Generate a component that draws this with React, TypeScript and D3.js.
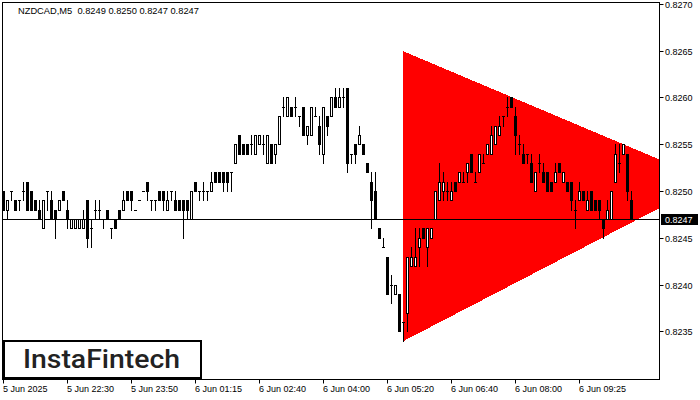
import { useRef, useEffect } from 'react';
import * as d3 from 'd3';

// NZDCAD M5 candles, prices in 1/10000 (pips)
const opens = [
  8250, 8248, 8250, 8249, 8249, 8250, 8251, 8250, 8249, 8248,
  8246, 8250, 8249, 8248, 8248, 8250, 8248, 8246, 8246, 8246,
  8246, 8249, 8246, 8248, 8248, 8247, 8248, 8246, 8247, 8248,
  8248, 8250, 8250, 8248, 8249, 8250, 8251, 8249, 8249, 8250,
  8250, 8248, 8250, 8249, 8249, 8249, 8249, 8247, 8251, 8250,
  8250, 8250, 8250, 8252, 8252, 8252, 8252, 8252, 8253, 8256,
  8255, 8255, 8255, 8254, 8255, 8255, 8253, 8255, 8254, 8255,
  8259, 8258, 8259, 8259, 8258, 8259, 8256, 8256, 8258, 8257,
  8254, 8258, 8258, 8260, 8259, 8260, 8261, 8254, 8255, 8255,
  8255, 8253, 8251, 8250, 8246, 8244, 8243, 8240, 8239, 8239,
  8236, 8237, 8242, 8242, 8244, 8246, 8244, 8245, 8247, 8249,
  8250, 8250, 8249, 8251, 8251, 8251, 8252, 8254, 8251, 8252,
  8253, 8254, 8254, 8255, 8256, 8258, 8259, 8260, 8258, 8255,
  8254, 8254, 8253, 8250, 8253, 8252, 8252, 8251, 8251, 8253,
  8251, 8251, 8251, 8248, 8249, 8250, 8248, 8250, 8249, 8249,
  8247, 8247, 8247, 8251, 8253, 8254, 8254, 8249,
];
const highs = [
  8250, 8249, 8250, 8249, 8249, 8251, 8251, 8250, 8249, 8249,
  8249, 8250, 8250, 8248, 8249, 8250, 8249, 8247, 8247, 8247,
  8248, 8249, 8247, 8249, 8249, 8247, 8248, 8246, 8247, 8248,
  8250, 8250, 8250, 8248, 8249, 8250, 8251, 8249, 8249, 8250,
  8250, 8250, 8250, 8250, 8249, 8249, 8249, 8250, 8251, 8250,
  8251, 8250, 8252, 8252, 8252, 8252, 8252, 8252, 8255, 8256,
  8255, 8255, 8256, 8256, 8256, 8256, 8256, 8255, 8255, 8258,
  8260, 8260, 8259, 8260, 8258, 8259, 8257, 8259, 8259, 8258,
  8259, 8258, 8260, 8261, 8261, 8261, 8261, 8254, 8255, 8257,
  8255, 8253, 8252, 8252, 8246, 8245, 8243, 8241, 8240, 8239,
  8236, 8243, 8244, 8246, 8246, 8246, 8246, 8246, 8250, 8253,
  8252, 8251, 8251, 8251, 8252, 8252, 8253, 8254, 8252, 8254,
  8254, 8255, 8257, 8257, 8258, 8258, 8260, 8260, 8259, 8256,
  8255, 8254, 8254, 8252, 8254, 8253, 8252, 8251, 8253, 8253,
  8252, 8251, 8251, 8249, 8251, 8250, 8250, 8250, 8249, 8249,
  8247, 8249, 8250, 8255, 8255, 8255, 8254, 8250,
];
const lows = [
  8248, 8247, 8249, 8248, 8248, 8249, 8248, 8248, 8248, 8247,
  8246, 8248, 8247, 8245, 8248, 8249, 8246, 8246, 8246, 8246,
  8246, 8244, 8244, 8247, 8247, 8246, 8247, 8245, 8246, 8247,
  8248, 8249, 8248, 8248, 8249, 8250, 8249, 8248, 8248, 8249,
  8248, 8248, 8249, 8248, 8248, 8245, 8247, 8247, 8250, 8249,
  8249, 8249, 8250, 8251, 8251, 8250, 8250, 8250, 8253, 8254,
  8254, 8254, 8254, 8254, 8255, 8254, 8253, 8253, 8253, 8255,
  8258, 8258, 8258, 8258, 8257, 8256, 8255, 8256, 8258, 8254,
  8253, 8256, 8258, 8259, 8259, 8259, 8252, 8253, 8253, 8255,
  8254, 8252, 8246, 8247, 8245, 8244, 8239, 8238, 8239, 8235,
  8234, 8235, 8242, 8242, 8242, 8245, 8242, 8245, 8247, 8249,
  8249, 8249, 8249, 8250, 8251, 8251, 8251, 8252, 8251, 8252,
  8253, 8254, 8254, 8255, 8256, 8257, 8258, 8259, 8254, 8254,
  8253, 8253, 8251, 8250, 8252, 8251, 8250, 8250, 8251, 8252,
  8251, 8250, 8248, 8246, 8249, 8249, 8248, 8248, 8248, 8247,
  8245, 8247, 8247, 8251, 8252, 8254, 8249, 8247,
];
const closes = [
  8248, 8249, 8250, 8248, 8249, 8250, 8248, 8248, 8248, 8247,
  8249, 8250, 8247, 8247, 8249, 8249, 8247, 8247, 8247, 8247,
  8247, 8245, 8246, 8248, 8248, 8247, 8247, 8246, 8246, 8247,
  8249, 8249, 8249, 8248, 8249, 8250, 8250, 8249, 8249, 8249,
  8249, 8249, 8250, 8248, 8248, 8248, 8248, 8250, 8250, 8250,
  8250, 8250, 8251, 8251, 8251, 8251, 8251, 8252, 8255, 8254,
  8254, 8254, 8255, 8256, 8256, 8255, 8256, 8253, 8255, 8258,
  8259, 8260, 8258, 8259, 8258, 8256, 8257, 8259, 8258, 8255,
  8259, 8257, 8260, 8259, 8260, 8260, 8253, 8254, 8254, 8256,
  8254, 8252, 8249, 8247, 8245, 8244, 8239, 8240, 8240, 8235,
  8236, 8243, 8243, 8243, 8245, 8245, 8246, 8246, 8250, 8251,
  8251, 8250, 8250, 8250, 8252, 8251, 8253, 8252, 8251, 8254,
  8253, 8255, 8256, 8257, 8257, 8258, 8259, 8259, 8256, 8255,
  8253, 8254, 8251, 8252, 8253, 8251, 8250, 8250, 8252, 8252,
  8252, 8250, 8249, 8248, 8250, 8249, 8249, 8248, 8248, 8248,
  8246, 8248, 8250, 8254, 8253, 8255, 8250, 8247,
];

const xTickBars = [0, 16, 32, 48, 64, 80, 96, 112, 128, 144];
const xTickLabels = [
  '5 Jun 2025', '5 Jun 22:30', '5 Jun 23:50', '6 Jun 01:15', '6 Jun 02:40',
  '6 Jun 04:00', '6 Jun 05:20', '6 Jun 06:40', '6 Jun 08:00', '6 Jun 09:25',
];
const yTicks = [0.8235, 0.824, 0.8245, 0.825, 0.8255, 0.826, 0.8265, 0.827];

// symmetrical triangle pattern: bar index / price of its three corners
const triangleBars = [100, 100, 177];
const trianglePrices = [0.8265, 0.8234, 0.82511];

const lastPrice = 0.8247;
const header = 'NZDCAD,M5  0.8249 0.8250 0.8247 0.8247';

const FONT = '"Liberation Sans", Arial, sans-serif';

function drawChart(el: SVGSVGElement) {
  const svg = d3.select(el);
  svg.selectAll('*').remove();

  const left = 2.5, right = 659.5, top = 2.5, bottom = 379.5;
  const n = opens.length;
  const x = d3.scaleLinear().domain([0, n - 1]).range([3, 3 + 4 * (n - 1)]);
  const y = d3.scaleLinear().domain([0.823, 0.827]).range([378.75, 4.35]);
  const py = (p: number) => Math.floor(y(p)) + 0.5;
  const P = (v: number) => v / 10000;

  svg.append('rect').attr('width', 700).attr('height', 400).attr('fill', '#fff');

  svg.append('clipPath').attr('id', 'plot-clip')
    .append('rect')
    .attr('x', left + 0.5).attr('y', top + 0.5)
    .attr('width', right - left - 1).attr('height', bottom - top - 1);

  // triangle
  const tri = triangleBars.map((b, i) => [x(b), y(trianglePrices[i])] as [number, number]);
  svg.append('path')
    .attr('clip-path', 'url(#plot-clip)')
    .attr('d', d3.line()(tri) + 'Z')
    .attr('fill', '#ff0000')
    .attr('shape-rendering', 'crispEdges');

  // last price line
  svg.append('line')
    .attr('x1', left).attr('x2', right)
    .attr('y1', py(lastPrice)).attr('y2', py(lastPrice))
    .attr('stroke', '#000').attr('stroke-width', 1);

  // candles
  const g = svg.append('g').attr('clip-path', 'url(#plot-clip)').attr('shape-rendering', 'crispEdges');
  d3.range(n).forEach((i) => {
    const cx = Math.round(x(i));
    const o = P(opens[i]), c = P(closes[i]), h = P(highs[i]), l = P(lows[i]);
    const yH = py(h), yL = py(l);
    if (yL > yH) {
      g.append('line')
        .attr('x1', cx + 0.5).attr('x2', cx + 0.5)
        .attr('y1', yH - 0.5).attr('y2', yL + 0.5)
        .attr('stroke', '#000');
    }
    const yTop = py(Math.max(o, c)), yBot = py(Math.min(o, c));
    if (yBot === yTop) {
      g.append('line')
        .attr('x1', cx - 1).attr('x2', cx + 2)
        .attr('y1', yTop).attr('y2', yTop)
        .attr('stroke', '#000');
    } else {
      g.append('rect')
        .attr('x', cx - 0.5).attr('y', yTop)
        .attr('width', 2).attr('height', yBot - yTop)
        .attr('fill', c > o ? '#fff' : '#000')
        .attr('stroke', '#000');
    }
  });

  // frame
  svg.append('path')
    .attr('d', `M${left},${top}H${right}V${bottom}H${left}Z`)
    .attr('fill', 'none').attr('stroke', '#000')
    .attr('shape-rendering', 'crispEdges');

  // price axis
  const ya = svg.append('g').attr('font-family', FONT).attr('font-size', 9).attr('fill', '#000');
  yTicks.forEach((t) => {
    ya.append('line')
      .attr('x1', right).attr('x2', right + 4)
      .attr('y1', py(t)).attr('y2', py(t))
      .attr('stroke', '#000');
    ya.append('text')
      .attr('x', 665).attr('y', py(t) + 3.5)
      .text(d3.format('.4f')(t));
  });

  // time axis
  const xa = svg.append('g').attr('font-family', FONT).attr('font-size', 9).attr('fill', '#000');
  xTickBars.forEach((b, i) => {
    const tx = Math.round(x(b)) + 0.5;
    xa.append('line')
      .attr('x1', tx).attr('x2', tx)
      .attr('y1', bottom).attr('y2', bottom + 4)
      .attr('stroke', '#000');
    xa.append('text')
      .attr('x', Math.round(x(b)))
      .attr('y', 391.5)
      .text(xTickLabels[i]);
  });

  // last price tag
  const ly = py(lastPrice);
  svg.append('rect')
    .attr('x', 661).attr('y', ly - 5.5)
    .attr('width', 37).attr('height', 11)
    .attr('fill', '#000');
  svg.append('text')
    .attr('x', 665).attr('y', ly + 3.5)
    .attr('font-family', FONT).attr('font-size', 9)
    .attr('fill', '#fff')
    .text(d3.format('.4f')(lastPrice));

  // header
  svg.append('text')
    .attr('x', 18).attr('y', 14)
    .attr('font-family', FONT).attr('font-size', 9.3)
    .attr('fill', '#000')
    .attr('xml:space', 'preserve')
    .style('white-space', 'pre')
    .text(header);

  // logo
  svg.append('rect')
    .attr('x', 4).attr('y', 341)
    .attr('width', 197).attr('height', 37)
    .attr('fill', '#fff').attr('stroke', '#000').attr('stroke-width', 2);
  svg.append('text')
    .attr('x', 23).attr('y', 368)
    .attr('font-family', 'Roboto, "Open Sans", sans-serif')
    .attr('font-size', 26).attr('font-weight', 500)
    .attr('fill', '#222')
    .attr('textLength', 157).attr('lengthAdjust', 'spacingAndGlyphs')
    .text('InstaFintech');
}

export default function App() {
  const svgRef = useRef<SVGSVGElement>(null);

  useEffect(() => {
    if (svgRef.current) drawChart(svgRef.current);
  }, []);

  return (
    <svg
      ref={svgRef}
      width={700}
      height={400}
      style={{ position: 'absolute', left: 0, top: 0, display: 'block' }}
    />
  );
}
